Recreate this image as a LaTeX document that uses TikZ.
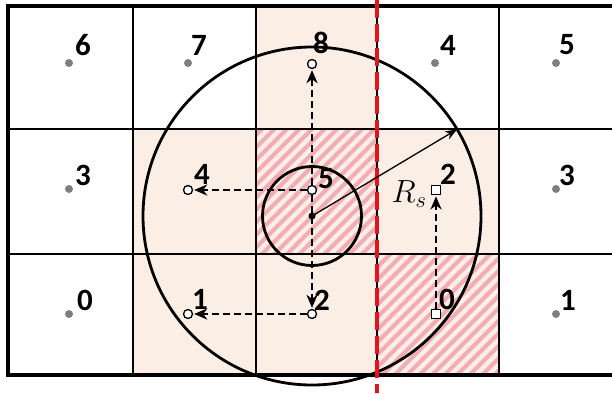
\RequirePackage{fix-cm}
\documentclass[tikz,border=0pt]{standalone}
\usepackage{fontspec}
\setmainfont{Carlito}
\usetikzlibrary{arrows.meta,calc}
\definecolor{beige}{HTML}{FBEEE5}
\definecolor{hatchpink}{HTML}{F3ABB5}
\definecolor{redline}{HTML}{E5141B}
\definecolor{dotgray}{HTML}{7F7F7F}
\begin{document}
\begin{tikzpicture}[x=1pt,y=-1pt,
  gdot/.style={circle,fill=dotgray,inner sep=0pt,minimum size=8pt},
  odot/.style={circle,draw=black,fill=white,line width=1.3pt,inner sep=0pt,minimum size=9pt},
  sdot/.style={rectangle,draw=black,fill=white,line width=1.3pt,inner sep=0pt,minimum size=9.5pt},
  cdot/.style={circle,fill=black,inner sep=0pt,minimum size=7pt},
  lbl/.style={font=\fontsize{31}{33}\selectfont\bfseries,inner sep=0pt},
  gridline/.style={line width=1.6pt},
  frameline/.style={line width=3.2pt},
  darr/.style={line width=2.2pt,dash pattern=on 7pt off 4pt,-{Stealth[length=13pt,width=11pt,inset=4pt]},shorten >=1pt},
  rarr/.style={line width=1.3pt,-{Stealth[length=12pt,width=9pt]}},
  bigcirc/.style={line width=2.8pt}]
\useasboundingbox (0,0) rectangle (612,393);
% shaded cells
\fill[beige] (133,129) rectangle (256,375);
\fill[beige] (256,6) rectangle (377,375);
\fill[beige] (377,129) rectangle (499,375);
% hatching
\begin{scope}
\clip (256,129) rectangle (377,254);
\foreach \k in {-20,...,30} {
  \draw[hatchpink,line width=4.2pt] (256+\k*12.5,260) -- ++(140,-140);
}
\end{scope}
\begin{scope}
\clip (377,254) rectangle (499,375);
\foreach \k in {-20,...,30} {
  \draw[hatchpink,line width=4.2pt] (377+\k*12.5,380) -- ++(140,-140);
}
\end{scope}
% grid
\foreach \x in {133,256,377,499} {\draw[gridline] (\x,6) -- (\x,375);}
\foreach \y in {129,254} {\draw[gridline] (8,\y) -- (612,\y);}
\draw[frameline] (612,6) -- (8,6) -- (8,375) -- (612,375);
% circles
\coordinate (c) at (312,216);
\draw[bigcirc] (c) circle[radius=169pt];
\draw[bigcirc] (c) circle[radius=49.5pt];
% red dashed line
\draw[redline,line width=4.5pt,dash pattern=on 18pt off 6pt] (377,0) -- (377,393);
% gray grid points
\node[gdot] (g6) at (69,63) {};
\node[gdot] (g7) at (188,63) {};
\node[gdot] (h4) at (435,63) {};
\node[gdot] (h5) at (556,63) {};
\node[gdot] (g3) at (69,189) {};
\node[gdot] (h3) at (556,189) {};
\node[gdot] (g0) at (69,314) {};
\node[gdot] (h1) at (556,314) {};
\node[lbl] at (83,45) {6};
\node[lbl] at (199,45) {7};
\node[lbl] at (448,45) {4};
\node[lbl] at (567,45) {5};
\node[lbl] at (83,175) {3};
\node[lbl] at (567,175) {3};
\node[lbl] at (85,300) {0};
\node[lbl] at (568,300) {1};
% R_s arrow
\node[cdot] (cd) at (c) {};
\coordinate (rs) at ($(c)+(-30.85:169)$);
\draw[rarr] (c) -- (rs);
\node[inner sep=0pt,font=\fontsize{32}{34}\selectfont] at (409,194) {$R_s$};
% open circles and squares
\node[odot] (o8) at (312,64) {};
\node[odot] (o5) at (312,190) {};
\node[odot] (o4) at (188,190) {};
\node[odot] (o1) at (188,314) {};
\node[odot] (o2) at (312,314) {};
\node[sdot] (s2) at (436,190) {};
\node[sdot] (s0) at (436,314) {};
% arrows
\draw[darr] (o5) -- (o8);
\draw[darr] (o5) -- (o4);
\draw[darr] (o5) -- (o2);
\draw[darr] (o2) -- (o1);
\draw[darr] (s0) -- (s2);
% labels of moving points
\node[lbl] at (321,43) {8};
\node[lbl] at (326,179) {5};
\node[lbl] at (202,174) {4};
\node[lbl] at (200,299) {1};
\node[lbl] at (322,300) {2};
\node[lbl] at (448,174) {2};
\node[lbl] at (447,299) {0};
\end{tikzpicture}
\end{document}
